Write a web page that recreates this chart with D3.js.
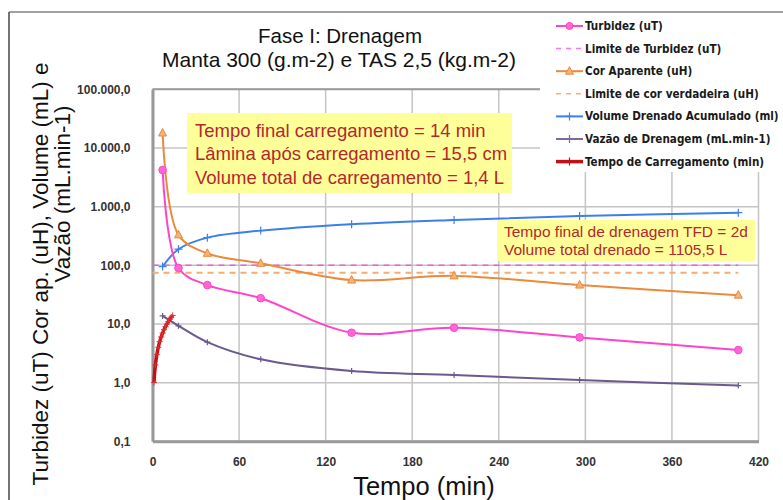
<!DOCTYPE html>
<html>
<head>
<meta charset="utf-8">
<script src="https://cdn.jsdelivr.net/npm/d3@7"></script>
<style>
  body { margin: 0; background: #fff; }
  text { font-family: "Liberation Sans", Arial, sans-serif; }
</style>
</head>
<body>
<svg id="chart" width="783" height="500"></svg>
<script>
// Sampling times (min) and measured series
const tempo = [7, 18, 38, 75, 138, 209, 296, 406];
const turbidez = [4200, 90, 46, 27.5, 7.1, 8.6, 5.9, 3.6];
const corAparente = [18000, 330, 160, 108, 56, 66, 46, 31];
const volumeAcumulado = [95, 188, 296, 390, 501, 593, 694, 790];
const vazao = [13.7, 9.3, 4.9, 2.5, 1.58, 1.35, 1.11, 0.89];

// Reference limits
const tempoLimite = [0, 406];
const limiteTurbidez = [100, 100];
const limiteCor = [75, 75];

// Loading phase (elapsed time, min)
const tempoCarga = [1, 2, 3, 4, 5, 6, 7, 8, 9, 10, 11, 12, 13, 14];
const carregamento = [1, 2, 3, 4, 5, 6, 7, 8, 9, 10, 11, 12, 13, 14];

// Axis ticks
const xTicks = [0, 60, 120, 180, 240, 300, 360, 420];
const yTicks = [0.1, 1, 10, 100, 1000, 10000, 100000];
const yTickLabels = ["0,1", "1,0", "10,0", "100,0", "1.000,0", "10.000,0", "100.000,0"];

const svg = d3.select("#chart");
const x = d3.scaleLinear().domain([0, 420]).range([152.5, 758.5]);
const y = d3.scaleLog().domain([0.1, 100000]).range([441.3, 89.3]);

// Outer frame
svg.append("line").attr("x1", 9).attr("x2", 783).attr("y1", 12).attr("y2", 12)
  .attr("stroke", "#808080").attr("stroke-width", 1.5);
svg.append("line").attr("x1", 9).attr("x2", 9).attr("y1", 12).attr("y2", 500)
  .attr("stroke", "#444").attr("stroke-width", 1.5);

// Gridlines
const grid = svg.append("g");
grid.selectAll("line.v").data(xTicks).join("line")
  .attr("x1", d => x(d)).attr("x2", d => x(d))
  .attr("y1", y(100000)).attr("y2", y(0.1))
  .attr("stroke", "#c4c4c4").attr("stroke-width", 1.5);
grid.selectAll("line.h").data(yTicks).join("line")
  .attr("x1", x(0)).attr("x2", x(420))
  .attr("y1", d => y(d)).attr("y2", d => y(d))
  .attr("stroke", "#c4c4c4").attr("stroke-width", 1.5);
// Top border of plot
svg.append("line").attr("x1", x(0)).attr("x2", x(420))
  .attr("y1", y(100000)).attr("y2", y(100000))
  .attr("stroke", "#9a9a9a").attr("stroke-width", 2);

// Axes
const yAxis = svg.append("g").attr("transform", `translate(${x(0)},0)`)
  .call(d3.axisLeft(y).tickValues(yTicks).tickFormat((d, i) => yTickLabels[i])
    .tickSize(0).tickPadding(22));
const xAxis = svg.append("g").attr("transform", `translate(0,${y(0.1)})`)
  .call(d3.axisBottom(x).tickValues(xTicks).tickFormat(d => d)
    .tickSize(0).tickPadding(16));
[yAxis, xAxis].forEach(g => {
  g.select(".domain").attr("stroke", "#999").attr("stroke-width", 3);
  g.selectAll("text").attr("font-size", 12).attr("font-weight", "bold")
    .attr("fill", "#333").style("font-family", "'Liberation Sans', Arial, sans-serif");
});

// Series drawing helpers
const smooth = d3.curveCatmullRom.alpha(0.5);
function drawLine(xs, ys, color, width, dash, curve) {
  const pts = xs.map((t, i) => [x(t), y(ys[i])]);
  svg.append("path").attr("d", d3.line().curve(curve || smooth)(pts))
    .attr("fill", "none").attr("stroke", color).attr("stroke-width", width)
    .attr("stroke-dasharray", dash || null);
  return pts;
}
function plus(pts, color, size, width) {
  svg.append("g").selectAll("path").data(pts).join("path")
    .attr("d", d => `M${d[0] - size},${d[1]}H${d[0] + size}M${d[0]},${d[1] - size}V${d[1] + size}`)
    .attr("stroke", color).attr("stroke-width", width);
}

// Limits
drawLine(tempoLimite, limiteTurbidez, "#ff55dd", 1.5, "6,5", d3.curveLinear);
drawLine(tempoLimite, limiteCor, "#f8aa70", 2, "6,5", d3.curveLinear);

// Vazão de Drenagem
const pVaz = drawLine(tempo, vazao, "#6a5a8e", 2);
plus(pVaz, "#6a5a8e", 3, 1.2);

// Volume Drenado Acumulado
const pVol = drawLine(tempo, volumeAcumulado, "#3b80ea", 2);
plus(pVol, "#3b80ea", 4, 1.2);

// Cor Aparente
const pCor = drawLine(tempo, corAparente, "#e98a3c", 2);
svg.append("g").selectAll("path").data(pCor).join("path")
  .attr("d", d => `M${d[0]},${d[1] - 4.5}L${d[0] + 4},${d[1] + 3}L${d[0] - 4},${d[1] + 3}Z`)
  .attr("fill", "#f5b27a").attr("stroke", "#e98a3c").attr("stroke-width", 1);

// Turbidez
const pTur = drawLine(tempo, turbidez, "#ff44cc", 2);
svg.append("g").selectAll("circle").data(pTur).join("circle")
  .attr("cx", d => d[0]).attr("cy", d => d[1]).attr("r", 3.8)
  .attr("fill", "#ff66d6").attr("stroke", "#ff44cc").attr("stroke-width", 1);

// Tempo de Carregamento
const pCar = drawLine(tempoCarga, carregamento, "#c40f14", 3.5);
plus(pCar, "#e03030", 3, 1);

// Annotation boxes
function noteBox(x0, y0, w, h, lines, size, lineH, padX, firstBase) {
  svg.append("rect").attr("x", x0).attr("y", y0).attr("width", w).attr("height", h)
    .attr("fill", "#ffff99");
  svg.append("g").selectAll("text").data(lines).join("text")
    .attr("x", x0 + padX).attr("y", (d, i) => y0 + firstBase + i * lineH)
    .attr("font-size", size).attr("fill", "#b3282d").text(d => d);
}
noteBox(187, 113, 325, 80, [
  "Tempo final carregamento = 14 min",
  "Lâmina após carregamento = 15,5 cm",
  "Volume total de carregamento = 1,4 L"
], 18.5, 23.8, 8, 23.5);
noteBox(497, 220, 258, 41, [
  "Tempo final de drenagem TFD = 2d",
  "Volume total drenado = 1105,5 L"
], 15.5, 18.5, 7, 16.5);

// Legend
const legendItems = [
  { label: "Turbidez (uT)", color: "#ff44cc", dash: null, mark: "circle" },
  { label: "Limite de Turbidez (uT)", color: "#ff77e6", dash: "5,5", mark: null },
  { label: "Cor Aparente (uH)", color: "#e98a3c", dash: null, mark: "tri" },
  { label: "Limite de cor verdadeira (uH)", color: "#f8b07a", dash: "5,5", mark: null },
  { label: "Volume Drenado Acumulado (ml)", color: "#3b80ea", dash: null, mark: "plus" },
  { label: "Vazão de Drenagem (mL.min-1)", color: "#7a6a9e", dash: null, mark: "plus" },
  { label: "Tempo de Carregamento (min)", color: "#c40f14", dash: null, mark: "plus" }
];
svg.append("rect").attr("x", 540).attr("y", 13).attr("width", 243).attr("height", 159).attr("fill", "#fff");
const lg = svg.append("g").selectAll("g").data(legendItems).join("g")
  .attr("transform", (d, i) => `translate(556,${26 + i * 22.6})`);
lg.append("line").attr("x1", 0).attr("x2", 27)
  .attr("stroke", d => d.color).attr("stroke-width", d => d.label.startsWith("Tempo") ? 3.5 : (d.dash ? 1.5 : 2))
  .attr("stroke-dasharray", d => d.dash);
lg.filter(d => d.mark === "circle").append("circle").attr("cx", 13.5).attr("r", 3.5)
  .attr("fill", "#ff66d6").attr("stroke", d => d.color);
lg.filter(d => d.mark === "tri").append("path").attr("d", "M13.5,-4.5L17.5,3L9.5,3Z")
  .attr("fill", "#f5b27a").attr("stroke", d => d.color);
lg.filter(d => d.mark === "plus").append("path").attr("d", "M9.5,0H17.5M13.5,-4V4")
  .attr("stroke", d => d.color).attr("stroke-width", 1.2);
lg.append("text").attr("x", 29).attr("y", 0).attr("dy", "0.35em")
  .attr("font-size", 11.6).attr("font-weight", "bold").attr("fill", "#1a1a1a")
  .style("font-family", "'DejaVu Sans Condensed', sans-serif")
  .text(d => d.label);

// Titles
svg.append("text").attr("x", 340).attr("y", 43).attr("text-anchor", "middle")
  .attr("font-size", 20.5).attr("fill", "#111").text("Fase I: Drenagem");
svg.append("text").attr("x", 339).attr("y", 66.5).attr("text-anchor", "middle")
  .attr("font-size", 21).attr("fill", "#111").text("Manta 300 (g.m-2) e TAS 2,5 (kg.m-2)");

svg.append("text").attr("transform", "translate(48,274) rotate(-90)").attr("text-anchor", "middle")
  .attr("font-size", 22.5).attr("fill", "#111").text("Turbidez (uT) Cor ap. (uH), Volume (mL) e");
svg.append("text").attr("transform", "translate(70,194) rotate(-90)").attr("text-anchor", "middle")
  .attr("font-size", 22.5).attr("fill", "#111").text("Vazão (mL.min-1)");

svg.append("text").attr("x", 424).attr("y", 495).attr("text-anchor", "middle")
  .attr("font-size", 25.5).attr("fill", "#111").text("Tempo (min)");
</script>
</body>
</html>
